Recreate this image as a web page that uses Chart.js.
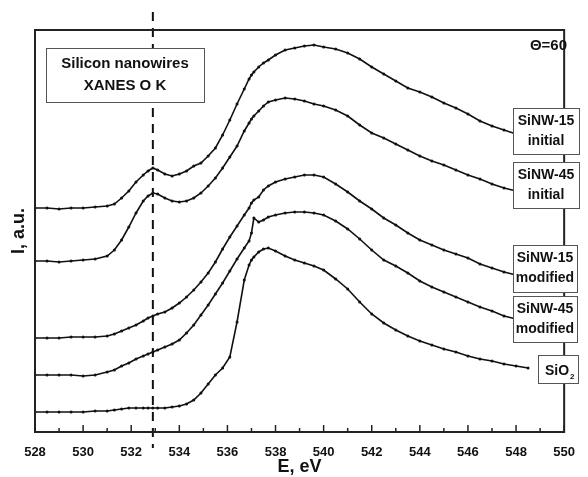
<!DOCTYPE html>
<html>
<head>
<meta charset="utf-8">
<script src="https://cdn.jsdelivr.net/npm/chart.js@4"></script>
<style>
    html, body { margin: 0; padding: 0; background: #fff; }
    #wrap { width: 588px; height: 477px; }
</style>
</head>
<body>
<div id="wrap"><canvas id="xanesChart" width="588" height="477"></canvas></div>
<script>
// Photon energy grid (eV), shared by all spectra
const energy = [
    528, 528.5, 529, 529.5, 530, 530.5, 531, 531.3, 531.6, 531.9,
    532.2, 532.5, 532.7, 532.9, 533.1, 533.4, 533.7, 534, 534.3, 534.6,
    534.9, 535.2, 535.5, 535.8, 536.1, 536.4, 536.7, 536.9, 537.0, 537.1,
    537.3, 537.5, 537.7, 538.0, 538.4, 538.8, 539.2, 539.6, 540.0, 540.5,
    541, 541.5, 542, 542.5, 543, 543.5, 544, 544.5, 545, 545.5,
    546, 546.5, 547, 547.5, 548, 548.5
];

// Intensities, a.u. (curves are offset vertically as in the figure)
const sinw15Initial = [
    2.24, 2.24, 2.23, 2.24, 2.24, 2.25, 2.26, 2.28, 2.34, 2.41,
    2.50, 2.57, 2.61, 2.64, 2.62, 2.58, 2.56, 2.58, 2.61, 2.66,
    2.69, 2.76, 2.84, 2.97, 3.12, 3.28, 3.43, 3.53, 3.57, 3.60,
    3.65, 3.69, 3.72, 3.77, 3.82, 3.84, 3.86, 3.87, 3.85, 3.83,
    3.79, 3.73, 3.65, 3.58, 3.51, 3.44, 3.40, 3.35, 3.29, 3.24,
    3.18, 3.11, 3.06, 3.02, 2.98, 2.95
];
const sinw45Initial = [
    1.71, 1.71, 1.70, 1.71, 1.72, 1.73, 1.76, 1.82, 1.92, 2.05,
    2.19, 2.31, 2.36, 2.39, 2.38, 2.34, 2.31, 2.30, 2.31, 2.34,
    2.39, 2.46, 2.54, 2.64, 2.75, 2.86, 3.01, 3.09, 3.13, 3.16,
    3.21, 3.26, 3.30, 3.32, 3.34, 3.33, 3.31, 3.28, 3.26, 3.22,
    3.16, 3.07, 2.99, 2.94, 2.88, 2.82, 2.76, 2.71, 2.67, 2.62,
    2.57, 2.53, 2.48, 2.44, 2.41, 2.38
];
const sinw15Modified = [
    0.94, 0.94, 0.94, 0.95, 0.95, 0.95, 0.96, 0.98, 1.01, 1.04,
    1.07, 1.11, 1.14, 1.16, 1.18, 1.20, 1.24, 1.29, 1.35, 1.42,
    1.50, 1.59, 1.70, 1.83, 1.95, 2.06, 2.17, 2.24, 2.29, 2.32,
    2.35, 2.42, 2.46, 2.50, 2.53, 2.55, 2.57, 2.57, 2.55, 2.48,
    2.40, 2.31, 2.23, 2.14, 2.07, 1.99, 1.92, 1.87, 1.82, 1.78,
    1.74, 1.68, 1.64, 1.60, 1.57, 1.54
];
const sinw45Modified = [
    0.57, 0.57, 0.57, 0.57, 0.56, 0.57, 0.60, 0.62, 0.66, 0.69,
    0.73, 0.76, 0.78, 0.80, 0.82, 0.85, 0.88, 0.92, 0.99, 1.07,
    1.17, 1.27, 1.38, 1.49, 1.61, 1.73, 1.84, 1.91, 1.99, 2.14,
    2.10, 2.12, 2.15, 2.17, 2.19, 2.20, 2.20, 2.19, 2.17, 2.11,
    2.03, 1.93, 1.82, 1.72, 1.66, 1.59, 1.51, 1.45, 1.40, 1.35,
    1.30, 1.25, 1.21, 1.16, 1.13, 1.10
];
const sio2 = [
    0.20, 0.20, 0.20, 0.20, 0.20, 0.21, 0.21, 0.22, 0.23, 0.24,
    0.24, 0.24, 0.24, 0.24, 0.24, 0.24, 0.25, 0.26, 0.28, 0.32,
    0.39, 0.48, 0.57, 0.64, 0.75, 1.10, 1.52, 1.67, 1.72, 1.75,
    1.80, 1.83, 1.84, 1.81, 1.76, 1.72, 1.69, 1.66, 1.62, 1.53,
    1.43, 1.30, 1.18, 1.09, 1.02, 0.96, 0.91, 0.87, 0.83, 0.80,
    0.76, 0.73, 0.71, 0.68, 0.66, 0.64
];

const seriesNames = ['SiNW-15 initial', 'SiNW-45 initial', 'SiNW-15 modified', 'SiNW-45 modified', 'SiO2'];
const xTickLabels = [528, 530, 532, 534, 536, 538, 540, 542, 544, 546, 548, 550];
const titleLines = ['Silicon nanowires', 'XANES O K'];
const angleLabel = '\u0398=60';
const markerEnergy = 532.9;

const FONT = '"Liberation Sans", Arial, sans-serif';
const INK = '#111';

function toPoints(values) {
    return values.map((v, i) => ({ x: energy[i], y: v }));
}

// frame, inward ticks, dashed marker line and the text boxes
const decorations = {
    id: 'decorations',
    afterDatasetsDraw(chart) {
        const { ctx, chartArea: a, scales: { x } } = chart;
        ctx.save();

        // dashed line at the pre-edge feature
        const mx = x.getPixelForValue(markerEnergy);
        ctx.strokeStyle = INK;
        ctx.lineWidth = 2;
        ctx.setLineDash([9, 7]);
        ctx.beginPath();
        ctx.moveTo(mx, 12);
        ctx.lineTo(mx, a.bottom + 16);
        ctx.stroke();
        ctx.setLineDash([]);

        // frame
        ctx.strokeStyle = '#222';
        ctx.lineWidth = 2;
        ctx.strokeRect(a.left, a.top, a.right - a.left, a.bottom - a.top);

        // inward ticks on the bottom axis
        ctx.lineWidth = 1.5;
        x.ticks.forEach(t => {
            const px = x.getPixelForValue(t.value);
            const len = xTickLabels.includes(t.value) ? 7 : 4;
            ctx.beginPath();
            ctx.moveTo(px, a.bottom);
            ctx.lineTo(px, a.bottom - len);
            ctx.stroke();
        });

        // boxes
        function box(x0, y0, w, h, lines, size, lineGap) {
            ctx.fillStyle = '#fff';
            ctx.fillRect(x0, y0, w, h);
            ctx.strokeStyle = '#555';
            ctx.lineWidth = 1;
            ctx.strokeRect(x0 + 0.5, y0 + 0.5, w, h);
            ctx.fillStyle = INK;
            ctx.font = 'bold ' + size + 'px ' + FONT;
            ctx.textAlign = 'center';
            ctx.textBaseline = 'middle';
            const cy = y0 + h / 2 - (lines.length - 1) * lineGap / 2;
            lines.forEach((ln, i) => ctx.fillText(ln, x0 + w / 2, cy + i * lineGap));
        }

        box(46, 48, 158, 54, titleLines, 15, 22);
        box(513, 108, 66, 46, seriesNames[0].split(' '), 14, 20);
        box(513, 162, 66, 46, seriesNames[1].split(' '), 14, 20);
        box(513, 245, 64, 47, seriesNames[2].split(' '), 14, 20);
        box(513, 296, 64, 46, seriesNames[3].split(' '), 14, 20);

        // SiO2 box with subscript
        ctx.fillStyle = '#fff';
        ctx.fillRect(538, 355, 40, 28);
        ctx.strokeStyle = '#555';
        ctx.lineWidth = 1;
        ctx.strokeRect(538.5, 355.5, 40, 28);
        ctx.fillStyle = INK;
        ctx.textAlign = 'left';
        ctx.textBaseline = 'alphabetic';
        ctx.font = 'bold 14px ' + FONT;
        ctx.fillText('SiO', 545, 375);
        const w = ctx.measureText('SiO').width;
        ctx.font = 'bold 8px ' + FONT;
        ctx.fillText('2', 545 + w + 1, 379);

        // angle label
        ctx.font = 'bold 15px ' + FONT;
        ctx.textAlign = 'right';
        ctx.textBaseline = 'middle';
        ctx.fillText(angleLabel, 567, 46);

        ctx.restore();
    }
};

const seriesData = [sinw15Initial, sinw45Initial, sinw15Modified, sinw45Modified, sio2];

new Chart(document.getElementById('xanesChart').getContext('2d'), {
    type: 'line',
    data: {
        datasets: seriesData.map((vals, i) => ({
            label: seriesNames[i],
            data: toPoints(vals),
            borderColor: INK,
            backgroundColor: INK,
            borderWidth: 1.6,
            pointRadius: 1.5,
            pointBorderWidth: 0,
            tension: 0
        }))
    },
    options: {
        responsive: false,
        devicePixelRatio: 1,
        animation: false,
        layout: { padding: { top: 30, right: 14, left: 0, bottom: 0 } },
        plugins: { legend: { display: false }, tooltip: { enabled: false } },
        scales: {
            x: {
                type: 'linear',
                min: 528,
                max: 550,
                afterFit: s => { s.height = 45; },
                grid: { display: false, drawTicks: false },
                border: { display: false },
                ticks: {
                    stepSize: 1,
                    autoSkip: false,
                    maxRotation: 0,
                    padding: 13,
                    color: INK,
                    font: { family: FONT, size: 13, weight: 'bold' },
                    callback: v => xTickLabels.includes(v) ? String(v) : ''
                },
                title: {
                    display: true,
                    text: 'E, eV',
                    color: INK,
                    font: { family: FONT, size: 18, weight: 'bold' },
                    padding: { top: 0, bottom: -1 }
                }
            },
            y: {
                min: 0,
                max: 4.02,
                afterFit: s => { s.width = 35; },
                grid: { display: false, drawTicks: false },
                border: { display: false },
                ticks: { display: false },
                title: {
                    display: true,
                    text: 'I, a.u.',
                    color: INK,
                    font: { family: FONT, size: 18, weight: 'bold' },
                    padding: { top: 8, bottom: 0 }
                }
            }
        }
    },
    plugins: [decorations]
});
</script>
</body>
</html>
